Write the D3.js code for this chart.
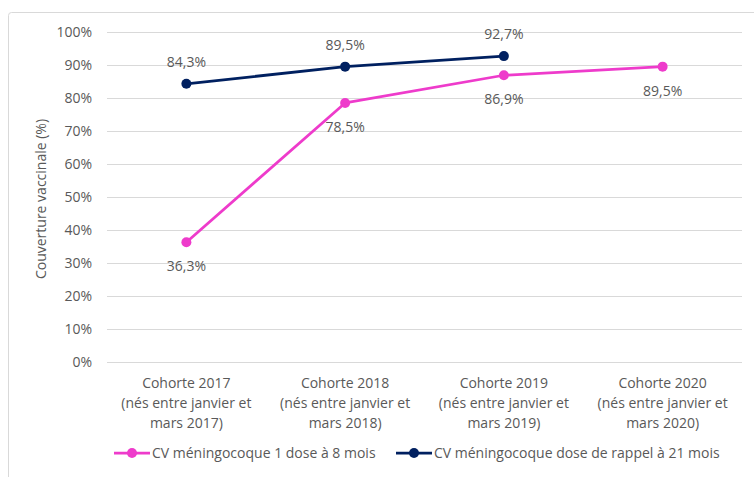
<!DOCTYPE html>
<html>
<head>
<meta charset="utf-8">
<script src="https://cdn.jsdelivr.net/npm/d3@7"></script>
<style>
  body { margin: 0; background: #fff; }
  svg text { font-family: "Open Sans", Lato, sans-serif; fill: #595959; }
</style>
</head>
<body>
<div id="chart"></div>
<script>

var categories = [
	['Cohorte 2017', '(nés entre janvier et', 'mars 2017)'],
	['Cohorte 2018', '(nés entre janvier et', 'mars 2018)'],
	['Cohorte 2019', '(nés entre janvier et', 'mars 2019)'],
	['Cohorte 2020', '(nés entre janvier et', 'mars 2020)']
]

var dose8 = [36.3, 78.5, 86.9, 89.5]
var rappel21 = [84.3, 89.5, 92.7, null]

var series_names = [
	'CV méningocoque 1 dose à 8 mois',
	'CV méningocoque dose de rappel à 21 mois'
]

var y_ticks = [0, 10, 20, 30, 40, 50, 60, 70, 80, 90, 100]

var width = 754,
	height = 477,
	margin = {top: 32, right: 12, bottom: 115, left: 107},
	font_size = 14

var pink = '#ee3bcb',
	navy = '#002060'

var svg = d3.select('#chart')
	.append('svg')
	.attr('width', width)
	.attr('height', height)

// outer frame of the chart (runs off right / bottom edge)
svg.append('rect')
	.attr('x', 8.5)
	.attr('y', 12.5)
	.attr('width', 800)
	.attr('height', 520)
	.attr('rx', 3)
	.attr('fill', 'none')
	.attr('stroke', '#d9d9d9')

var x = d3.scaleBand()
	.domain(d3.range(categories.length))
	.range([margin.left, width - margin.right])

var y = d3.scaleLinear()
	.domain([0, 100])
	.range([height - margin.bottom, margin.top])

// grid
svg.append('g')
	.selectAll('line')
	.data(y_ticks)
	.join('line')
		.attr('x1', margin.left)
		.attr('x2', width - margin.right)
		.attr('y1', d => Math.round(y(d)) + 0.5)
		.attr('y2', d => Math.round(y(d)) + 0.5)
		.attr('stroke', '#d9d9d9')
		.attr('stroke-width', 1)

// y tick labels
svg.append('g')
	.selectAll('text')
	.data(y_ticks)
	.join('text')
		.attr('x', margin.left - 15)
		.attr('y', d => y(d))
		.attr('dy', '0.35em')
		.attr('text-anchor', 'end')
		.attr('font-size', font_size)
		.text(d => d + '%')

// y axis title
svg.append('text')
	.attr('transform', 'translate(46,' + (y(50) + 2) + ') rotate(-90)')
	.attr('text-anchor', 'middle')
	.attr('font-size', font_size)
	.text('Couverture vaccinale (%)')

// category labels
var cat = svg.append('g')
	.selectAll('text')
	.data(categories)
	.join('text')
		.attr('text-anchor', 'middle')
		.attr('font-size', font_size)
		.attr('x', (d, i) => x(i) + x.bandwidth() / 2)

cat.selectAll('tspan')
	.data(d => d)
	.join('tspan')
		.attr('x', function () { return d3.select(this.parentNode).attr('x') })
		.attr('y', (d, i) => 388 + i * 20)
		.text(d => d)

var line = d3.line()
	.defined(d => d != null)
	.x((d, i) => x(i) + x.bandwidth() / 2)
	.y(d => y(d))

var fmt = v => d3.format('.1f')(v).replace('.', ',') + '%'

var series = [
	{values: dose8, color: pink, label_dy: 24},
	{values: rappel21, color: navy, label_dy: -22}
]

series.forEach(s => {

	svg.append('path')
		.datum(s.values)
		.attr('fill', 'none')
		.attr('stroke', s.color)
		.attr('stroke-width', 2.75)
		.attr('stroke-linejoin', 'round')
		.attr('d', line)

	var pts = s.values.map((v, i) => ({v: v, i: i})).filter(d => d.v != null)

	svg.append('g')
		.selectAll('circle')
		.data(pts)
		.join('circle')
			.attr('cx', d => x(d.i) + x.bandwidth() / 2)
			.attr('cy', d => y(d.v))
			.attr('r', 5)
			.attr('fill', s.color)

	svg.append('g')
		.selectAll('text')
		.data(pts)
		.join('text')
			.attr('x', d => x(d.i) + x.bandwidth() / 2)
			.attr('y', d => y(d.v) + s.label_dy)
			.attr('dy', '0.35em')
			.attr('text-anchor', 'middle')
			.attr('font-size', font_size)
			.text(d => fmt(d.v))

})

// legend
var legend_items = [
	{name: series_names[0], color: pink, x: 114},
	{name: series_names[1], color: navy, x: 396}
]

var lg = svg.append('g')
	.selectAll('g')
	.data(legend_items)
	.join('g')
		.attr('transform', d => 'translate(' + d.x + ',453)')

lg.append('line')
	.attr('x1', 0)
	.attr('x2', 36)
	.attr('stroke', d => d.color)
	.attr('stroke-width', 2.75)

lg.append('circle')
	.attr('cx', 18)
	.attr('r', 5)
	.attr('fill', d => d.color)

lg.append('text')
	.attr('x', 38)
	.attr('dy', '0.35em')
	.attr('font-size', font_size)
	.text(d => d.name)

</script>
</body>
</html>
